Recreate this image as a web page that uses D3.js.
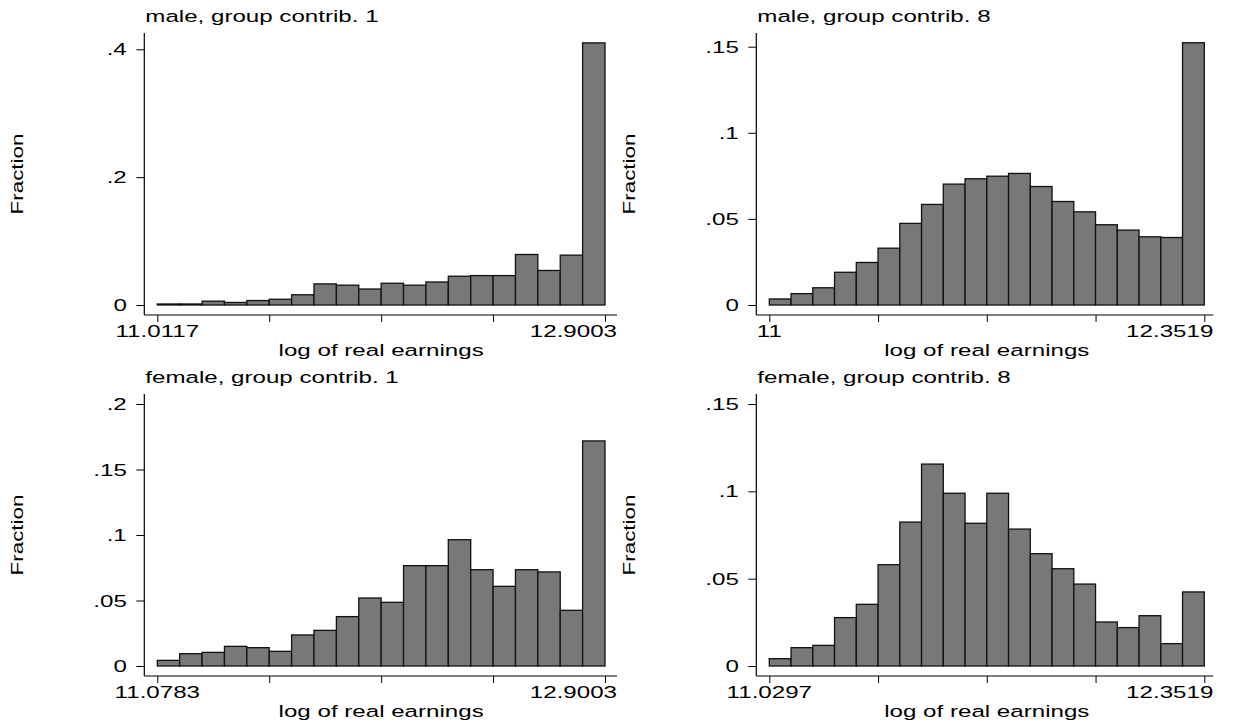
<!DOCTYPE html>
<html>
<head>
<meta charset="utf-8">
<script src="https://cdn.jsdelivr.net/npm/d3@7"></script>
<style>
  body { margin: 0; background: #fff; }
  text { font-family: "Liberation Sans", Arial, sans-serif; fill: #000; }
</style>
</head>
<body>
<div id="chart"></div>
<script>
// histogram data: fraction per bin (20 equal-width bins each)
const titles = ["male, group contrib. 1", "male, group contrib. 8", "female, group contrib. 1", "female, group contrib. 8"];
const xLabel = "log of real earnings";
const yLabel = "Fraction";

const male1 = [0.0016, 0.0016, 0.006, 0.004, 0.007, 0.009, 0.016, 0.033, 0.031, 0.025,
               0.034, 0.031, 0.036, 0.045, 0.046, 0.046, 0.079, 0.054, 0.078, 0.41];
const male8 = [0.0035, 0.0066, 0.010, 0.019, 0.0247, 0.033, 0.0474, 0.0584, 0.0702, 0.0733,
               0.0748, 0.0764, 0.0688, 0.0601, 0.0541, 0.0466, 0.0435, 0.0396, 0.0392, 0.1523];
const female1 = [0.0043, 0.0094, 0.0104, 0.015, 0.014, 0.0112, 0.0237, 0.0272, 0.0377, 0.0519,
                 0.0486, 0.0766, 0.0766, 0.0964, 0.0735, 0.0608, 0.0735, 0.0718, 0.0425, 0.1718];
const female8 = [0.0042, 0.0105, 0.0118, 0.0277, 0.0353, 0.058, 0.0824, 0.1156, 0.0989, 0.0817,
                 0.0989, 0.0784, 0.0643, 0.0557, 0.0469, 0.0252, 0.0220, 0.0288, 0.0128, 0.0424];

const xRanges = [[11.0117, 12.9003], [11, 12.3519], [11.0783, 12.9003], [11.0297, 12.3519]];
const xEndLabels = [["11.0117", "12.9003"], ["11", "12.3519"], ["11.0783", "12.9003"], ["11.0297", "12.3519"]];
const yTicks = [[0, 0.2, 0.4], [0, 0.05, 0.1, 0.15], [0, 0.05, 0.1, 0.15, 0.2], [0, 0.05, 0.1, 0.15]];

const series = [male1, male8, female1, female8];

// layout
const W = 1238, H = 727;
const cols = [{ x0: 157.3, x1: 605 }, { x0: 769.3, x1: 1204.3 }];
const rows = [{ top: 33, zero: 305, xline: 315 }, { top: 394, zero: 666, xline: 676 }];
const topTickPx = [49.3, 46.7, 404, 404];
const fs = 17;          // font size
const stretch = 1.42;   // text in the original is drawn wide

const svg = d3.select("#chart").append("svg")
    .attr("width", W).attr("height", H);

const fmt = d => d === 0 ? "0" : String(d).replace(/^0/, "");

series.forEach((data, p) => {
    const col = cols[p % 2], row = rows[Math.floor(p / 2)];
    const range = xRanges[p];
    const ticksY = yTicks[p];
    const axisX = col.x0 - 13;
    const lineEnd = col.x1 + (p % 2 === 0 ? 12 : 9);

    const x = d3.scaleLinear().domain(range).range([col.x0, col.x1]);
    const y = d3.scaleLinear().domain([0, ticksY[ticksY.length - 1]])
        .range([row.zero, topTickPx[p]]);

    const g = svg.append("g");
    const binW = (range[1] - range[0]) / data.length;

    // bars
    g.selectAll("rect.bar").data(data).enter().append("rect")
        .attr("class", "bar")
        .attr("x", (d, i) => x(range[0] + i * binW))
        .attr("width", (d, i) => x(range[0] + (i + 1) * binW) - x(range[0] + i * binW))
        .attr("y", d => y(d))
        .attr("height", d => y(0) - y(d))
        .attr("fill", "#787878")
        .attr("stroke", "#111")
        .attr("stroke-width", 1.3);

    // y axis
    const yAx = g.append("g").attr("transform", `translate(${axisX},0)`)
        .call(d3.axisLeft(y).tickValues(ticksY).tickSize(8).tickFormat(""));
    yAx.select(".domain").remove();
    yAx.selectAll("line").attr("stroke", "#000");
    g.append("line")
        .attr("x1", axisX).attr("x2", axisX)
        .attr("y1", row.top).attr("y2", row.xline)
        .attr("stroke", "#000").attr("stroke-width", 1.2);

    ticksY.forEach(t => {
        g.append("text")
            .attr("transform", `translate(${axisX - 17.5},${y(t)}) scale(${stretch},1)`)
            .attr("text-anchor", "end")
            .attr("dy", "0.36em")
            .style("font-size", fs + "px")
            .text(fmt(t));
    });

    // x axis
    const xTicks = d3.range(5).map(i => range[0] + i * (range[1] - range[0]) / 4);
    const xAx = g.append("g").attr("transform", `translate(0,${row.xline})`)
        .call(d3.axisBottom(x).tickValues(xTicks).tickSize(7).tickFormat(""));
    xAx.select(".domain").remove();
    xAx.selectAll("line").attr("stroke", "#000");
    g.append("line")
        .attr("x1", axisX).attr("x2", lineEnd)
        .attr("y1", row.xline).attr("y2", row.xline)
        .attr("stroke", "#000").attr("stroke-width", 1.2);

    g.append("text")
        .attr("transform", `translate(${x(range[0])},${row.xline + 22}) scale(${stretch},1)`)
        .attr("text-anchor", "middle")
        .style("font-size", fs + "px")
        .text(xEndLabels[p][0]);
    g.append("text")
        .attr("transform", `translate(${lineEnd},${row.xline + 22}) scale(${stretch},1)`)
        .attr("text-anchor", "end")
        .style("font-size", fs + "px")
        .text(xEndLabels[p][1]);

    // axis titles
    g.append("text")
        .attr("transform", `translate(${(col.x0 + col.x1) / 2},${row.xline + 40.5}) scale(${stretch},1)`)
        .attr("text-anchor", "middle")
        .style("font-size", fs + "px")
        .text(xLabel);

    g.append("text")
        .attr("transform", `translate(${axisX - 121},${(row.top + row.xline) / 2}) rotate(-90) scale(1.32,1)`)
        .attr("text-anchor", "middle")
        .style("font-size", fs + "px")
        .text(yLabel);

    // panel title
    g.append("text")
        .attr("transform", `translate(${axisX + 1},${row.top - 11.3}) scale(${stretch},1)`)
        .style("font-size", fs + "px")
        .text(titles[p]);
});
</script>
</body>
</html>
